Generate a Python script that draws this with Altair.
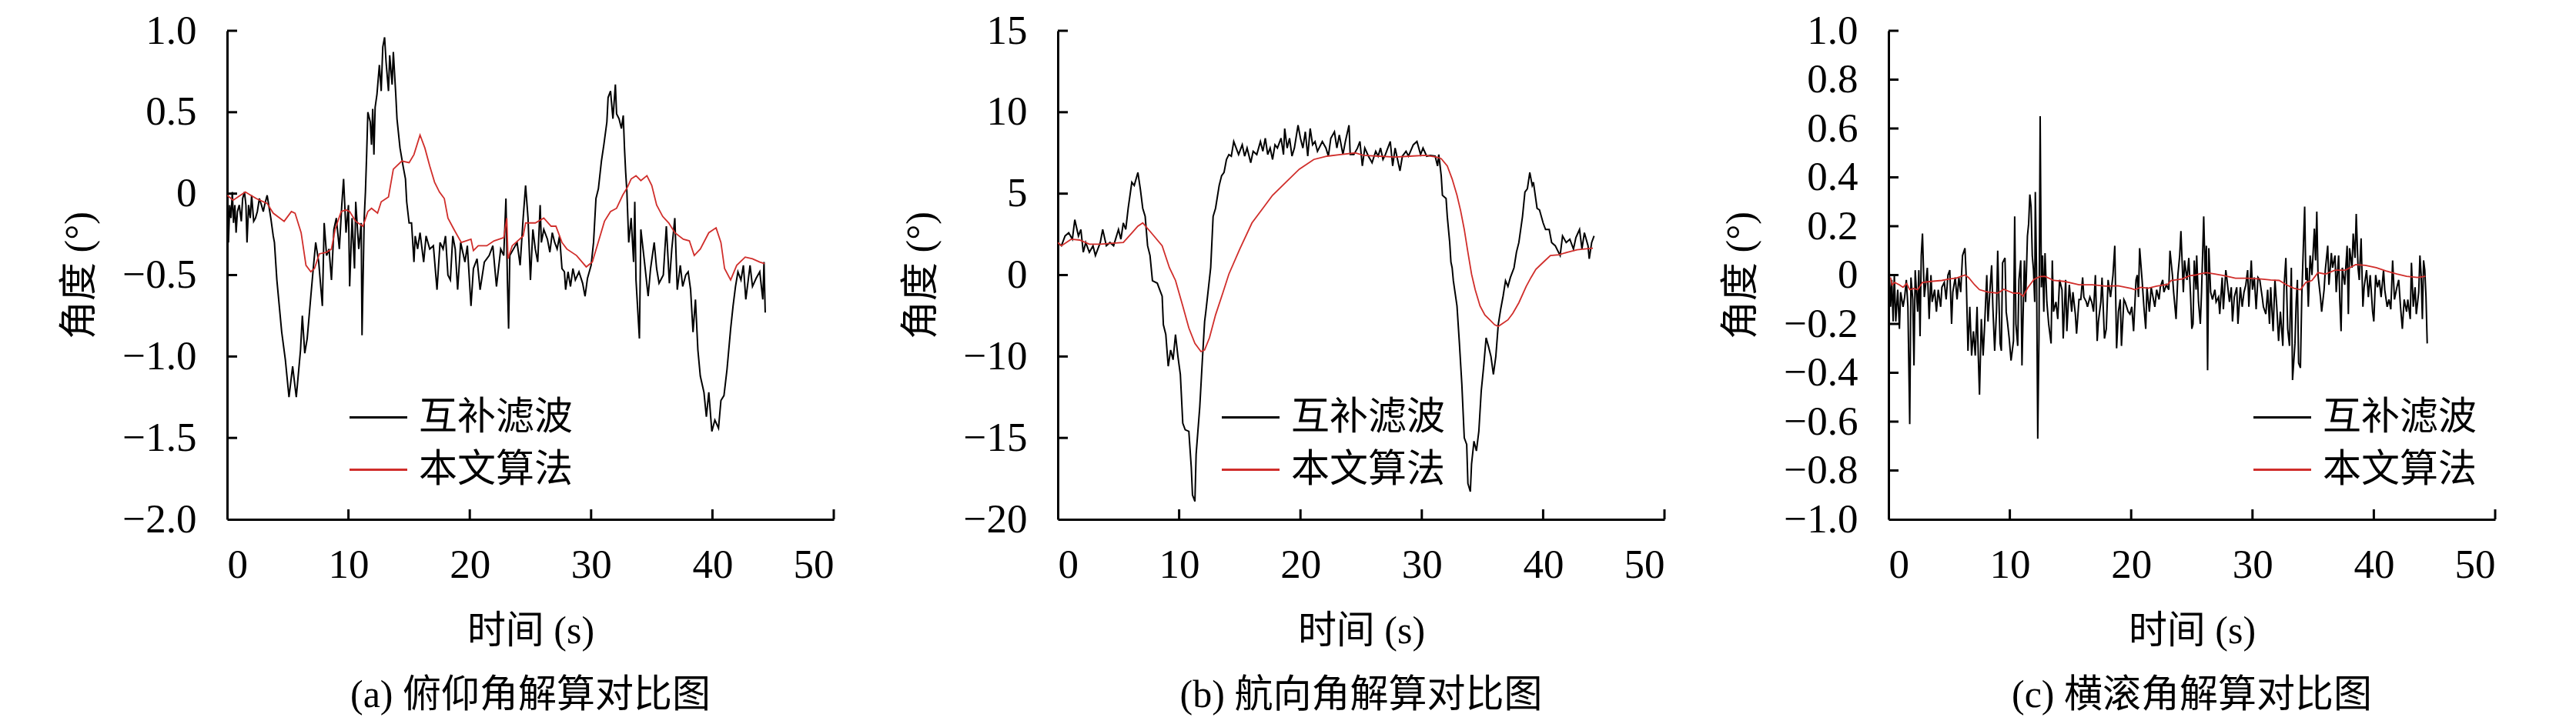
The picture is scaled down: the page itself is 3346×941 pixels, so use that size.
import altair as alt
import pandas as pd

# ---------------- data ----------------
SERIES = ["互补滤波", "本文算法"]
COLORS = ["#000000", "#d02e2b"]

# (a) pitch
a_black_t = [0.0, 0.11, 0.21, 0.32, 0.43, 0.53, 0.64, 0.74, 0.85, 1.0, 1.17, 1.28, 1.43, 1.55, 1.64, 1.77, 1.91, 2.02,
             2.19, 2.34, 2.49, 2.66, 2.83, 2.98, 3.09, 3.3, 3.6, 3.8, 3.9, 4.1, 4.5, 4.8, 5.1, 5.4, 5.7, 6.05, 6.2, 6.4,
             6.6, 6.9, 7.1, 7.3, 7.55, 7.85, 8.0, 8.2, 8.4, 8.6, 8.8, 9.0, 9.25, 9.45, 9.6, 9.8, 10.0, 10.1, 10.3, 10.5,
             10.6, 10.85, 11.05, 11.12, 11.3, 11.4, 11.5, 11.6, 11.8, 11.9, 12.0, 12.1, 12.2, 12.35, 12.55, 12.7, 12.83,
             12.98, 13.1, 13.3, 13.4, 13.6, 13.7, 13.9, 14.0, 14.25, 14.5, 14.7, 14.8, 15.0, 15.2, 15.4, 15.5, 15.7, 15.9,
             16.2, 16.4, 16.7, 17.0, 17.3, 17.55, 17.8, 18.0, 18.2, 18.4, 18.6, 18.8, 19.0, 19.25, 19.6, 19.8, 20.1, 20.3,
             20.6, 20.85, 21.2, 21.6, 21.9, 22.2, 22.55, 22.8, 22.98, 23.1, 23.2, 23.3, 23.6, 23.9, 24.15, 24.4, 24.6,
             24.8, 25.0, 25.2, 25.4, 25.6, 25.8, 25.9, 26.1, 26.4, 26.6, 26.8, 27.0, 27.2, 27.4, 27.6, 27.8, 27.9, 28.1,
             28.3, 28.5, 28.7, 29.0, 29.3, 29.5, 29.7, 30.0, 30.2, 30.4, 30.6, 30.85, 31.05, 31.3, 31.4, 31.6, 31.8, 32.0,
             32.1, 32.3, 32.5, 32.65, 32.75, 32.85, 32.95, 33.1, 33.3, 33.5, 33.6, 33.7, 33.98, 34.1, 34.4, 34.7, 34.9,
             35.2, 35.4, 35.6, 35.95, 36.2, 36.45, 36.65, 36.9, 37.1, 37.35, 37.55, 37.8, 38.0, 38.2, 38.4, 38.6, 38.8,
             39.0, 39.3, 39.5, 39.7, 39.95, 40.2, 40.5, 40.7, 40.95, 41.2, 41.5, 41.7, 41.9, 42.1, 42.35, 42.55, 42.75,
             43.1, 43.3, 43.6, 43.9, 44.15, 44.25, 44.35]
a_black_v = [-0.01, -0.30, -0.07, -0.15, 0.01, -0.18, -0.07, -0.24, -0.11, -0.07, -0.17, -0.03, 0.01, -0.07, -0.30,
             -0.07, -0.15, -0.01, -0.17, -0.15, -0.11, -0.03, -0.07, -0.11, -0.07, -0.01, -0.15, -0.26, -0.30, -0.53,
             -0.85, -1.02, -1.25, -1.06, -1.25, -0.96, -0.75, -0.98, -0.89, -0.63, -0.46, -0.30, -0.42, -0.69, -0.18,
             -0.38, -0.34, -0.53, -0.22, -0.15, -0.34, -0.07, 0.09, -0.24, -0.07, -0.57, -0.15, -0.46, -0.05, -0.34,
             -0.18, -0.87, -0.15, 0.01, 0.24, 0.50, 0.44, 0.30, 0.52, 0.24, 0.53, 0.61, 0.79, 0.63, 0.90, 0.96, 0.81,
             0.63, 0.85, 0.67, 0.87, 0.61, 0.46, 0.28, 0.17, 0.09, -0.05, -0.18, -0.18, -0.42, -0.26, -0.34, -0.24,
             -0.42, -0.26, -0.34, -0.32, -0.59, -0.30, -0.34, -0.26, -0.50, -0.53, -0.26, -0.34, -0.59, -0.30, -0.42,
             -0.32, -0.69, -0.46, -0.40, -0.59, -0.42, -0.38, -0.32, -0.57, -0.34, -0.38, -0.03, -0.53, -0.83, -0.38,
             -0.34, -0.30, -0.44, -0.15, 0.05, -0.15, -0.53, -0.22, -0.34, -0.42, -0.07, -0.30, -0.22, -0.28, -0.36,
             -0.24, -0.30, -0.34, -0.26, -0.46, -0.48, -0.59, -0.48, -0.57, -0.46, -0.53, -0.48, -0.55, -0.63, -0.52,
             -0.44, -0.30, -0.03, 0.03, 0.20, 0.30, 0.44, 0.59, 0.63, 0.46, 0.67, 0.49, 0.46, 0.40, 0.48, 0.28, 0.13,
             0.01, -0.30, -0.15, -0.42, -0.05, -0.53, -0.89, -0.22, -0.42, -0.63, -0.46, -0.30, -0.46, -0.55, -0.50,
             -0.20, -0.55, -0.34, -0.15, -0.59, -0.44, -0.57, -0.50, -0.48, -0.59, -0.85, -0.65, -0.96, -1.12, -1.22,
             -1.37, -1.22, -1.46, -1.39, -1.44, -1.27, -1.24, -1.08, -0.83, -0.69, -0.57, -0.48, -0.53, -0.44, -0.65,
             -0.44, -0.57, -0.52, -0.48, -0.65, -0.42, -0.73]
a_red_t = [0.0, 0.5, 1.5, 2.4, 3.3, 3.8, 4.7, 5.3, 5.6, 6.1, 6.5, 6.9, 7.2, 7.6, 8.2, 8.6, 8.9, 9.4, 9.8, 10.1, 10.6,
           11.2, 11.6, 11.9, 12.4, 12.7, 13.3, 13.7, 14.4, 15.0, 15.4, 15.9, 16.3, 16.7, 17.1, 17.5, 17.9, 18.2, 18.7,
           19.3, 20.1, 20.3, 20.7, 21.4, 22.0, 22.8, 23.05, 23.15, 23.5, 24.4, 24.6, 25.4, 26.1, 26.7, 27.1, 27.6,
           28.0, 28.8, 29.6, 30.1, 30.5, 31.1, 31.6, 32.1, 32.6, 33.0, 33.3, 33.7, 34.1, 34.6, 35.0, 35.4, 35.9, 36.4,
           36.9, 37.6, 38.1, 38.5, 39.0, 39.7, 40.3, 40.7, 41.0, 41.5, 42.0, 42.7, 43.3, 43.9, 44.3]
a_red_v = [-0.01, -0.04, 0.01, -0.03, -0.06, -0.12, -0.17, -0.11, -0.12, -0.24, -0.44, -0.48, -0.46, -0.37, -0.36,
           -0.34, -0.22, -0.11, -0.10, -0.11, -0.17, -0.20, -0.11, -0.09, -0.12, -0.05, -0.02, 0.15, 0.20, 0.19, 0.24,
           0.36, 0.28, 0.17, 0.07, 0.01, -0.03, -0.15, -0.22, -0.30, -0.28, -0.35, -0.32, -0.32, -0.29, -0.27, -0.15,
           -0.40, -0.32, -0.26, -0.18, -0.18, -0.15, -0.20, -0.20, -0.30, -0.34, -0.38, -0.45, -0.42, -0.32, -0.17,
           -0.11, -0.09, -0.01, 0.04, 0.09, 0.11, 0.08, 0.11, 0.05, -0.07, -0.14, -0.18, -0.24, -0.28, -0.29, -0.38,
           -0.34, -0.24, -0.21, -0.30, -0.46, -0.53, -0.44, -0.39, -0.40, -0.42, -0.43]

# (b) heading
b_black_t = [0.0, 0.3, 0.6, 0.9, 1.2, 1.4, 1.7, 1.9, 2.1, 2.3, 2.6, 2.9, 3.1, 3.5, 3.7, 4.0, 4.3, 4.6, 5.0, 5.2, 5.4,
             5.6, 5.8, 6.1, 6.3, 6.6, 6.8, 7.0, 7.2, 7.4, 7.6, 7.8, 8.2, 8.4, 8.6, 8.7, 8.9, 9.1, 9.3, 9.5, 9.7, 9.9,
             10.1, 10.3, 10.5, 10.8, 11.0, 11.1, 11.3, 11.4, 11.7, 11.9, 12.1, 12.2, 12.4, 12.6, 12.8, 13.0, 13.3, 13.5,
             13.7, 13.9, 14.1, 14.3, 14.5, 14.7, 14.9, 15.2, 15.4, 15.6, 15.9, 16.1, 16.4, 16.7, 16.9, 17.1, 17.3, 17.5,
             17.7, 17.9, 18.1, 18.4, 18.6, 18.7, 18.9, 19.1, 19.3, 19.5, 19.8, 20.0, 20.2, 20.4, 20.6, 20.8, 21.0, 21.2,
             21.4, 21.8, 22.1, 22.3, 22.5, 22.8, 23.0, 23.2, 23.5, 23.7, 24.0, 24.1, 24.4, 24.7, 24.9, 25.1, 25.3, 25.6,
             25.9, 26.2, 26.4, 26.6, 26.8, 27.0, 27.4, 27.6, 27.8, 28.0, 28.2, 28.4, 28.7, 28.9, 29.3, 29.6, 29.9, 30.1,
             30.4, 30.7, 31.1, 31.3, 31.4, 31.6, 31.7, 32.0, 32.1, 32.3, 32.4, 32.5, 32.6, 32.9, 33.1, 33.3, 33.5, 33.7,
             33.8, 34.0, 34.1, 34.3, 34.5, 34.7, 34.9, 35.1, 35.3, 35.5, 35.7, 35.9, 36.1, 36.3, 36.5, 36.7, 36.9, 37.1,
             37.3, 37.6, 37.8, 38.0, 38.3, 38.5, 38.7, 38.9, 39.1, 39.2, 39.5, 39.7, 40.0, 40.2, 40.5, 40.7, 41.0, 41.4,
             41.6, 41.9, 42.2, 42.5, 42.7, 43.0, 43.2, 43.4, 43.7, 43.8, 44.0, 44.2]
b_black_v = [2.0, 1.8, 2.4, 2.6, 2.2, 3.4, 2.4, 2.8, 1.4, 2.0, 1.4, 1.8, 1.2, 2.0, 2.8, 1.8, 2.0, 1.8, 2.8, 2.2, 3.2,
             2.8, 4.1, 5.7, 5.5, 6.3, 5.3, 4.1, 3.6, 1.8, 1.2, -0.7, -1.0, -1.8, -2.6, -6.1, -7.3, -10.6, -9.2, -10.2,
             -7.3, -10.0, -11.1, -14.1, -14.5, -14.6, -16.8, -18.5, -18.9, -16.0, -13.1, -10.4, -5.7, -4.5, -1.8, 0.45,
             3.6, 4.1, 5.5, 6.1, 6.3, 7.1, 7.4, 7.3, 8.2, 7.8, 7.4, 8.0, 7.3, 7.8, 6.9, 7.6, 7.4, 8.2, 7.6, 8.4, 7.4,
             7.8, 7.1, 8.0, 7.8, 8.4, 7.4, 9.0, 7.8, 8.4, 7.3, 7.8, 9.2, 8.4, 7.8, 8.8, 7.3, 9.0, 8.0, 8.2, 7.6, 8.2,
             7.8, 7.3, 8.4, 8.8, 7.8, 8.6, 7.4, 8.2, 9.2, 7.4, 7.4, 7.8, 8.2, 6.7, 7.8, 7.3, 6.9, 7.6, 7.3, 7.8, 7.1,
             7.4, 8.2, 6.7, 7.8, 7.1, 6.4, 7.3, 7.6, 7.3, 8.0, 8.2, 7.4, 7.8, 7.3, 7.35, 7.3, 6.7, 7.4, 6.1, 4.9, 4.7,
             3.6, 2.0, 0.8, 0.45, -0.7, -3.8, -8.4, -11.7, -15.0, -15.4, -17.8, -18.3, -16.6, -15.2, -15.8, -14.6,
             -12.1, -10.6, -7.7, -8.8, -10.0, -11.1, -10.0, -6.1, -4.2, -2.6, -0.7, -1.4, -0.3, 0.45, 1.4, 2.0, 3.6,
             5.1, 5.3, 6.3, 5.5, 5.7, 4.1, 4.0, 3.2, 2.8, 2.8, 2.0, 1.8, 1.2, 2.4, 2.0, 2.2, 1.6, 2.3, 2.8, 1.6, 2.6,
             1.8, 1.0, 2.0, 2.4]
b_red_t = [0.0, 0.3, 1.1, 1.8, 2.6, 3.5, 4.5, 5.4, 6.0, 6.6, 7.0, 7.7, 8.6, 9.2, 9.7, 10.3, 10.8, 11.3, 11.8, 12.1,
           12.5, 13.0, 13.6, 14.1, 15.0, 16.0, 16.9, 17.7, 18.8, 19.9, 21.1, 22.2, 23.3, 24.5, 25.2, 26.5, 27.8, 29.0,
           30.3, 31.2, 31.6, 32.1, 32.5, 32.9, 33.2, 33.5, 33.8, 34.1, 34.4, 34.8, 35.2, 35.6, 36.0, 36.3, 36.7, 37.1,
           37.5, 38.0, 38.6, 39.0, 39.4, 40.1, 40.6, 41.3, 42.0, 42.8, 43.4, 44.1]
b_red_v = [2.0, 1.8, 2.2, 2.15, 1.9, 1.9, 1.95, 2.0, 2.5, 3.0, 3.2, 2.6, 1.8, 0.45, -0.66, -3.8, -6.5, -8.4, -9.4,
           -9.2, -7.7, -4.9, -2.2, 0.06, 1.6, 3.2, 4.1, 4.9, 5.7, 6.5, 7.1, 7.3, 7.4, 7.5, 7.35, 7.3, 7.25, 7.3, 7.35,
           7.25, 7.15, 6.7, 5.9, 4.9, 3.95, 2.8, 1.4, 0.06, -1.8, -3.8, -4.9, -5.5, -6.1, -6.3, -5.9, -5.5, -4.7, -3.4,
           -1.4, -0.3, 0.35, 0.85, 1.2, 1.25, 1.4, 1.55, 1.6, 1.65]

# (c) roll
c_black_t = [0.06, 0.17, 0.27, 0.38, 0.48, 0.6, 0.76, 0.9, 1.0, 1.2, 1.33, 1.47, 1.6, 1.75, 1.85, 2.0, 2.1, 2.2, 2.4,
             2.5, 2.6, 2.7, 2.8, 2.95, 3.1, 3.2, 3.35, 3.5, 3.6, 3.8, 3.95, 4.1, 4.3, 4.4, 4.6, 4.75, 4.9, 5.05, 5.2,
             5.3, 5.5, 5.65, 5.8, 5.95, 6.1, 6.3, 6.4, 6.55, 6.7, 6.85, 7.0, 7.15, 7.3, 7.4, 7.5, 7.65, 7.8, 7.9, 8.1,
             8.2, 8.3, 8.5, 8.6, 8.75, 8.9, 9.0, 9.1, 9.2, 9.3, 9.4, 9.6, 9.7, 9.8, 9.95, 10.1, 10.3, 10.4, 10.5, 10.65,
             10.75, 10.9, 11.0, 11.1, 11.2, 11.3, 11.45, 11.55, 11.65, 11.75, 11.85, 11.95, 12.05, 12.1, 12.2, 12.3,
             12.4, 12.5, 12.6, 12.7, 12.8, 12.9, 13.05, 13.2, 13.4, 13.5, 13.6, 13.8, 13.95, 14.1, 14.3, 14.4, 14.6,
             14.7, 14.9, 15.1, 15.2, 15.4, 15.5, 15.7, 15.85, 16.0, 16.1, 16.3, 16.4, 16.6, 16.75, 16.9, 17.05, 17.2,
             17.3, 17.5, 17.6, 17.8, 17.95, 18.1, 18.3, 18.5, 18.65, 18.8, 18.95, 19.1, 19.2, 19.4, 19.5, 19.75, 19.9,
             20.05, 20.2, 20.4, 20.5, 20.6, 20.7, 20.9, 21.05, 21.2, 21.3, 21.5, 21.65, 21.8, 21.95, 22.1, 22.3, 22.4,
             22.6, 22.7, 22.9, 23.1, 23.2, 23.4, 23.5, 23.7, 23.85, 24.0, 24.1, 24.3, 24.4, 24.6, 24.75, 24.9, 25.0,
             25.1, 25.2, 25.35, 25.4, 25.55, 25.7, 25.8, 25.98, 26.1, 26.2, 26.3, 26.4, 26.55, 26.7, 26.9, 27.0, 27.2,
             27.3, 27.5, 27.6, 27.8, 27.9, 28.1, 28.25, 28.35, 28.5, 28.7, 28.8, 29.0, 29.15, 29.3, 29.45, 29.6, 29.7,
             29.9, 30.0, 30.15, 30.3, 30.45, 30.6, 30.8, 30.9, 31.1, 31.25, 31.4, 31.5, 31.7, 31.85, 32.0, 32.15, 32.3,
             32.5, 32.6, 32.75, 32.9, 33.05, 33.2, 33.3, 33.5, 33.6, 33.7, 33.8, 33.95, 34.06, 34.2, 34.3, 34.4, 34.5,
             34.6, 34.75, 34.9, 35.1, 35.2, 35.3, 35.4, 35.6, 35.7, 35.9, 36.0, 36.2, 36.3, 36.5, 36.6, 36.8, 36.9,
             37.1, 37.2, 37.3, 37.4, 37.6, 37.8, 37.9, 38.0, 38.2, 38.3, 38.45, 38.55, 38.7, 38.8, 38.95, 39.1, 39.2,
             39.4, 39.55, 39.7, 39.9, 40.0, 40.15, 40.3, 40.45, 40.6, 40.8, 40.9, 41.1, 41.25, 41.4, 41.55, 41.7, 41.9,
             42.05, 42.2, 42.35, 42.5, 42.7, 42.8, 43.0, 43.1, 43.25, 43.4, 43.5, 43.7, 43.8, 43.9, 44.0, 44.1, 44.2,
             44.3, 44.4]
c_black_v = [0.02, -0.13, -0.02, -0.19, 0.0, -0.19, -0.06, -0.22, -0.07, -0.13, -0.09, -0.02, -0.13, -0.61, -0.01,
             -0.10, -0.37, 0.02, -0.15, 0.02, -0.25, 0.08, 0.17, -0.09, -0.02, 0.03, -0.18, 0.0, -0.11, -0.06, -0.15,
             -0.06, -0.13, -0.05, -0.03, -0.10, 0.0, 0.02, -0.20, -0.07, -0.01, -0.10, -0.01, -0.07, 0.08, 0.11, 0.0,
             -0.31, -0.13, -0.33, -0.23, -0.33, -0.13, -0.33, -0.49, -0.18, -0.33, -0.23, 0.0, -0.19, -0.11, 0.04,
             -0.13, -0.31, -0.15, 0.10, -0.10, -0.28, -0.31, 0.05, 0.07, -0.15, -0.19, -0.26, -0.35, -0.27, 0.24,
             -0.20, -0.29, -0.02, 0.06, -0.37, -0.15, 0.06, -0.11, 0.16, 0.21, 0.33, 0.28, 0.08, 0.02, -0.11, 0.34,
             0.03, -0.67, -0.26, 0.65, -0.05, 0.08, -0.15, 0.09, -0.11, -0.20, -0.28, 0.06, -0.15, -0.11, -0.18,
             -0.02, -0.06, -0.26, -0.02, -0.23, -0.04, -0.15, -0.07, -0.16, -0.24, -0.10, -0.10, -0.01, -0.09, -0.11,
             -0.13, -0.09, -0.11, -0.15, 0.0, -0.27, -0.19, -0.11, -0.01, -0.26, -0.22, -0.02, -0.09, 0.0, 0.12, -0.30,
             -0.15, -0.10, -0.29, -0.10, -0.11, -0.15, -0.16, -0.13, -0.23, -0.02, 0.0, -0.09, 0.11, -0.02, -0.13,
             -0.22, -0.05, -0.15, -0.05, -0.09, -0.13, -0.06, -0.10, -0.05, -0.02, -0.07, -0.04, -0.06, 0.10, 0.0,
             -0.07, -0.18, 0.0, 0.08, 0.18, -0.07, 0.06, -0.02, 0.07, -0.09, -0.22, -0.20, 0.06, -0.06, 0.08, -0.11,
             -0.20, -0.07, 0.24, 0.0, 0.12, -0.39, 0.11, -0.07, -0.10, -0.06, -0.11, -0.09, -0.16, -0.01, -0.14, 0.02,
             -0.02, -0.11, -0.05, -0.19, -0.09, -0.05, -0.20, -0.05, -0.13, -0.07, -0.04, 0.02, -0.13, 0.06, -0.06,
             -0.01, -0.14, -0.01, -0.02, -0.09, -0.13, -0.16, -0.06, -0.20, -0.05, -0.23, -0.02, -0.13, -0.27, -0.15,
             -0.29, -0.05, 0.07, -0.22, -0.29, 0.03, -0.43, -0.28, -0.11, -0.02, -0.36, -0.38, -0.09, 0.13, 0.28,
             -0.02, 0.03, -0.13, 0.08, 0.0, 0.19, 0.06, 0.26, 0.0, -0.09, -0.15, -0.06, 0.02, 0.12, -0.04, 0.09, 0.03,
             0.08, -0.07, 0.08, -0.11, -0.23, 0.03, -0.04, 0.12, -0.16, 0.11, 0.03, 0.17, 0.07, 0.25, 0.03, -0.02,
             0.15, -0.13, -0.05, 0.02, -0.09, 0.0, -0.15, -0.19, 0.0, -0.05, -0.02, -0.09, 0.02, -0.06, -0.13, -0.10,
             -0.14, 0.06, -0.10, -0.05, -0.02, -0.13, -0.22, -0.10, -0.15, -0.10, -0.18, 0.05, -0.13, -0.05, -0.16,
             -0.07, 0.08, 0.0, -0.18, 0.06, 0.02, -0.09, -0.28]
c_red_t = [0.17, 0.3, 0.5, 0.9, 1.2, 1.5, 1.75, 2.1, 2.4, 2.8, 3.5, 4.4, 5.0, 5.6, 6.3, 6.6, 7.1, 7.5, 8.2, 9.0, 9.5,
           10.3, 10.8, 11.1, 11.5, 12.0, 12.5, 12.9, 13.6, 14.5, 15.3, 15.7, 16.8, 17.9, 18.9, 20.0, 20.3, 20.8, 21.4,
           22.1, 23.0, 23.3, 24.2, 24.8, 25.3, 25.6, 26.2, 26.9, 27.7, 28.6, 29.6, 30.7, 31.5, 32.2, 32.8, 33.4, 33.95,
           34.4, 34.9, 35.4, 36.0, 36.8, 37.65, 38.5, 39.3, 40.2, 41.0, 41.9, 42.7, 43.6, 44.25]
c_red_v = [-0.01, -0.04, -0.03, -0.04, -0.05, -0.035, -0.06, -0.055, -0.06, -0.03, -0.026, -0.022, -0.016, -0.012,
           0.0, -0.01, -0.04, -0.06, -0.07, -0.074, -0.058, -0.074, -0.074, -0.087, -0.05, -0.017, -0.006, -0.005,
           -0.022, -0.026, -0.035, -0.04, -0.04, -0.045, -0.044, -0.055, -0.06, -0.05, -0.054, -0.045, -0.038,
           -0.022, -0.016, -0.003, 0.0, 0.004, 0.01, 0.004, -0.003, -0.013, -0.013, -0.016, -0.02, -0.022, -0.04,
           -0.054, -0.06, -0.03, -0.022, 0.01, 0.004, 0.02, 0.02, 0.043, 0.04, 0.03, 0.017, 0.004, -0.005, -0.01,
           -0.005]

# axis tick values / labels
X_TICKS = [0, 10, 20, 30, 40, 50]
A_Y_TICKS = [1.0, 0.5, 0.0, -0.5, -1.0, -1.5, -2.0]
B_Y_TICKS = [15, 10, 5, 0, -10, -15, -20]
C_Y_TICKS = [1.0, 0.8, 0.6, 0.4, 0.2, 0.0, -0.2, -0.4, -0.6, -0.8, -1.0]
SUBTITLES = ["(a) 俯仰角解算对比图", "(b) 航向角解算对比图", "(c) 横滚角解算对比图"]

# ---------------- layout / style ----------------
W, H = 788, 635
NUM_FONT = "Liberation Serif"
MIX_FONT = "Liberation Serif, Noto Sans CJK SC"
TICK_LEN = 13

DEC_EXPR = "datum.value == 0 ? '0' : replace(format(datum.value, '.1f'), '-', '\u2212')"
INT_EXPR = "replace(format(datum.value, 'd'), '-', '\u2212')"


def panel(bt, bv, rt, rv, yscale, yticks, label_expr, subtitle, legend_x):
    df = pd.DataFrame({
        "t": bt + rt,
        "v": bv + rv,
        "s": [SERIES[0]] * len(bt) + [SERIES[1]] * len(rt),
    })
    xscale = alt.Scale(domain=[0, 50], nice=False, zero=False)
    x_enc = alt.X("t:Q", scale=xscale,
                  axis=alt.Axis(values=X_TICKS, format="d", title="时间 (s)"))
    y_enc = alt.Y("v:Q", scale=yscale,
                  axis=alt.Axis(values=yticks, labelExpr=label_expr, title="角度 (°)"))
    color = alt.Color("s:N", scale=alt.Scale(domain=SERIES, range=COLORS),
                      legend=alt.Legend(title=None, legendX=legend_x, legendY=476))
    base = alt.Chart(df)
    black = base.transform_filter(alt.datum.s == SERIES[0]).mark_line(
        strokeWidth=2.0, clip=True).encode(x=x_enc, y=y_enc, color=color)
    red = base.transform_filter(alt.datum.s == SERIES[1]).mark_line(
        strokeWidth=1.8, clip=True).encode(x=x_enc, y=y_enc, color=color)
    ytick_df = pd.DataFrame({"v": yticks[:-1]})
    xtick_df = pd.DataFrame({"t": X_TICKS[1:]})
    yt = alt.Chart(ytick_df).mark_rule(color="black", strokeWidth=3).encode(
        y=y_enc, x=alt.value(0), x2=alt.value(TICK_LEN))
    xt = alt.Chart(xtick_df).mark_rule(color="black", strokeWidth=3).encode(
        x=x_enc, y=alt.value(H), y2=alt.value(H - TICK_LEN))
    return alt.layer(black, red, yt, xt).properties(
        width=W, height=H,
        title=alt.TitleParams(subtitle, orient="bottom", anchor="middle", frame="group"))


pa = panel(a_black_t, a_black_v, a_red_t, a_red_v,
           alt.Scale(domain=[-2.0, 1.0], nice=False, zero=False),
           A_Y_TICKS, DEC_EXPR, SUBTITLES[0], 170)
pb = panel(b_black_t, b_black_v, b_red_t, b_red_v,
           alt.Scale(domain=[-20, -10, 0, 15], range=[H, H * 4 / 6, H * 3 / 6, 0], nice=False, zero=False),
           B_Y_TICKS, INT_EXPR, SUBTITLES[1], 224)
pc = panel(c_black_t, c_black_v, c_red_t, c_red_v,
           alt.Scale(domain=[-1.0, 1.0], nice=False, zero=False),
           C_Y_TICKS, DEC_EXPR, SUBTITLES[2], 485)

chart = alt.hconcat(pa, pb, pc, spacing=291, bounds="flush").resolve_scale(
    y="independent").resolve_legend(color="independent").properties(
    padding={"left": 70, "top": 6, "right": 5, "bottom": 5},
    background="white",
).configure_view(strokeWidth=0).configure_axis(
    domainColor="black", domainWidth=3, ticks=False, tickSize=0, grid=False,
    labelFont=NUM_FONT, labelFontSize=53, labelColor="black",
    titleFont=MIX_FONT, titleFontSize=50, titleFontWeight="normal", titleColor="black",
).configure_axisX(labelPadding=33, titlePadding=34).configure_axisY(
    labelPadding=40, titlePadding=30
).configure_title(
    font=MIX_FONT, fontSize=50, fontWeight="normal", color="black", offset=34
).configure_legend(
    orient="none", symbolType="M-1.5,0L1.5,0", symbolSize=2500, symbolStrokeWidth=3,
    labelFont=MIX_FONT, labelFontSize=50, labelColor="black", rowPadding=16,
    labelOffset=26, padding=0, labelLimit=600,
)

chart.save("out.html", embed_options={"renderer": "svg", "actions": False})
